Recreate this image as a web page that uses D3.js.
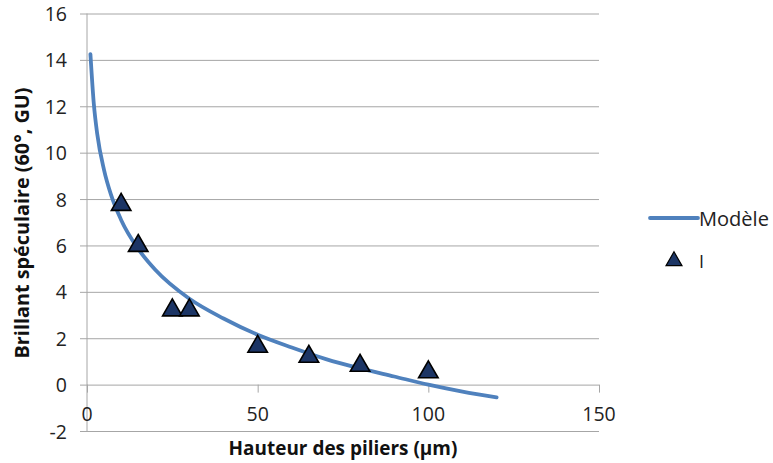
<!DOCTYPE html>
<html><head><meta charset="utf-8">
<script src="https://cdn.jsdelivr.net/npm/d3@7"></script>
<style>body{margin:0;background:#fff}svg{display:block}text{font-family:"Open Sans",sans-serif}</style>
</head><body>
<svg id="c" width="773" height="463"></svg>
<script>
// Data
const modelX = [1, 2, 3, 5, 7, 10, 15, 20, 30, 40, 50, 60, 70, 80, 90, 100, 110, 120];
const modelY = [14.25, 12.1, 10.8, 9.25, 8.2, 7.1, 5.85, 4.95, 3.7, 2.85, 2.15, 1.6, 1.1, 0.7, 0.35, 0.0, -0.3, -0.55];
const pointX = [10, 15, 25, 30, 50, 65, 80, 100];
const pointY = [7.8, 6.03, 3.25, 3.25, 1.68, 1.25, 0.86, 0.58];
const xTicks = [0, 50, 100, 150];
const yTicks = [-2, 0, 2, 4, 6, 8, 10, 12, 14, 16];
const seriesNames = ["Modèle", "I"];
const xTitle = "Hauteur des piliers (µm)";
const yTitle = "Brillant spéculaire (60°, GU)";

const svg = d3.select("#c");
const x = d3.scaleLinear().domain([0, 150]).range([87, 599]);
const y = d3.scaleLinear().domain([-2, 16]).range([431, 13.5]);
const grid = "#a6a6a6";
const txt = "#222";

function fit(sel, w) {
  const l = sel.node().getComputedTextLength();
  const fs = parseFloat(sel.attr("font-size"));
  sel.attr("font-size", fs * w / l);
}

// horizontal gridlines with outward ticks
const yAxis = svg.append("g").attr("transform", `translate(${x(0)},0)`)
  .call(d3.axisLeft(y).tickValues(yTicks).tickSizeInner(-(x(150) - x(0))).tickSizeOuter(0).tickFormat(""));
yAxis.select(".domain").remove();
yAxis.selectAll(".tick line").attr("stroke", grid).attr("x1", -7);
yAxis.selectAll(".tick").append("text").attr("x", -20).attr("dy", "0.36em")
  .attr("text-anchor", "end").attr("fill", txt).attr("font-size", 19.5).text(d => d);

// vertical axis line
svg.append("line").attr("x1", x(0)).attr("x2", x(0)).attr("y1", y(16)).attr("y2", y(-2)).attr("stroke", grid);

// x axis at y=0
const xAxis = svg.append("g").attr("transform", `translate(0,${y(0)})`)
  .call(d3.axisBottom(x).tickValues(xTicks).tickSize(8).tickFormat(""));
xAxis.select(".domain").remove();
xAxis.selectAll(".tick line").attr("stroke", grid);
svg.append("g").selectAll("text").data(xTicks).join("text")
  .attr("x", d => x(d)).attr("y", 421).attr("text-anchor", "middle")
  .attr("fill", txt).attr("font-size", 19.5).text(d => d);

// model curve
const line = d3.line().x(d => x(d[0])).y(d => y(d[1])).curve(d3.curveMonotoneX);
svg.append("path").datum(d3.zip(modelX, modelY)).attr("d", line)
  .attr("fill", "none").attr("stroke", "#4f81bd").attr("stroke-width", 3.8).attr("stroke-linecap", "round");

// triangles
const tri = d3.symbol().type(d3.symbolTriangle).size(165);
svg.append("g").selectAll("path").data(d3.zip(pointX, pointY)).join("path")
  .attr("d", tri).attr("transform", d => `translate(${x(d[0])},${y(d[1]) + 1})`)
  .attr("fill", "#1c3565").attr("stroke", "#000").attr("stroke-width", 1.6);

// legend
svg.append("line").attr("x1", 650).attr("x2", 698).attr("y1", 218).attr("y2", 218)
  .attr("stroke", "#4f81bd").attr("stroke-width", 3.8).attr("stroke-linecap", "round");
const lm = svg.append("text").attr("x", 699).attr("y", 226).attr("font-size", 17).attr("fill", txt).text(seriesNames[0]);
fit(lm, 70);
svg.append("path").attr("d", d3.symbol().type(d3.symbolTriangle).size(110)).attr("transform", "translate(674,261)")
  .attr("fill", "#1c3565").attr("stroke", "#000").attr("stroke-width", 1.2);
svg.append("text").attr("x", 699).attr("y", 268).attr("font-size", 18).attr("fill", txt).text(seriesNames[1]);

// titles
const xt = svg.append("text").attr("x", 343).attr("y", 455).attr("text-anchor", "middle")
  .attr("font-weight", "bold").attr("font-size", 16).attr("fill", "#111").text(xTitle);
fit(xt, 229);
const yt = svg.append("text").attr("transform", "translate(29,223) rotate(-90)").attr("text-anchor", "middle")
  .attr("font-weight", "bold").attr("font-size", 16).attr("fill", "#111").text(yTitle);
fit(yt, 271);
</script>
</body></html>
